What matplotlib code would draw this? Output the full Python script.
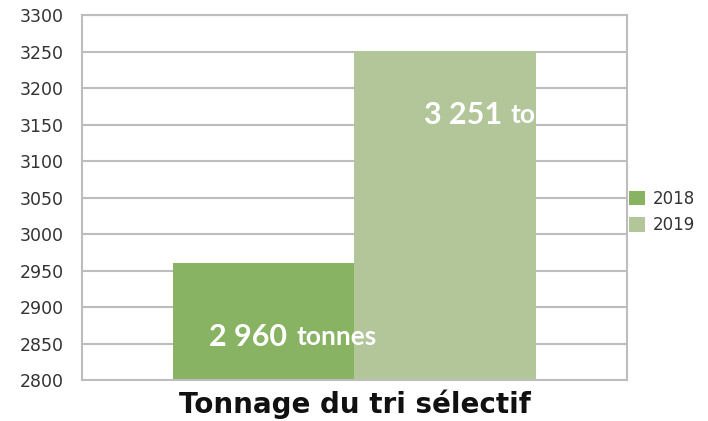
import matplotlib
matplotlib.use('Agg')
from matplotlib import pyplot as plt

# data
years = ['2018', '2019']
tonnage = [2960, 3251]
colors = ['#88b363', '#b2c69a']
title = 'Tonnage du tri sélectif'

fig = plt.figure(figsize=(7.08, 4.21), dpi=100)
ax = fig.add_axes([82 / 708, 41 / 421, 545 / 708, 365 / 421])

for i, (year, value, color) in enumerate(zip(years, tonnage, colors)):
	ax.bar(i, value, width=1.0, color=color, label=year, zorder=2)

ax.set_xlim(-1, 2)
ax.set_ylim(2800, 3300)
ax.set_yticks(range(2800, 3301, 50))
ax.set_xticks([])
ax.grid(axis='y', color='#bdbdbd', linewidth=1.5, zorder=0)
for side in ['left', 'right', 'top', 'bottom']:
	ax.spines[side].set_color('#bdbdbd')
	ax.spines[side].set_linewidth(1.5)
ax.tick_params(axis='y', length=0, pad=13, labelsize=12.5, labelcolor='#333333')

# value labels (number + unit), white
label_pos = [(0.154, 2859), (1.335, 3163)]
for value, (x, y) in zip(tonnage, label_pos):
	num = f"{value:,}".replace(",", " ")
	ax.text(x - 0.025, y, num, ha='right', va='center', color='white',
		fontsize=22, fontweight='bold', family='Lato', zorder=3)
	ax.text(x + 0.025, y, 'tonnes', ha='left', va='center', color='white',
		fontsize=19, fontweight='bold', family='Lato', zorder=3)

fig.text(355 / 708, 1 - 404 / 421, title, ha='center', va='center',
	fontsize=20, fontweight='bold', family='DejaVu Sans', color='#111111')

fig.legend(loc='center left', bbox_to_anchor=(629 / 708, 1 - 212 / 421),
	frameon=False, fontsize=12, handlelength=0.95, handleheight=0.95,
	handletextpad=0.45, labelspacing=0.5, borderaxespad=0, borderpad=0,
	labelcolor='#333333')

plt.savefig('out.png', dpi=100)
